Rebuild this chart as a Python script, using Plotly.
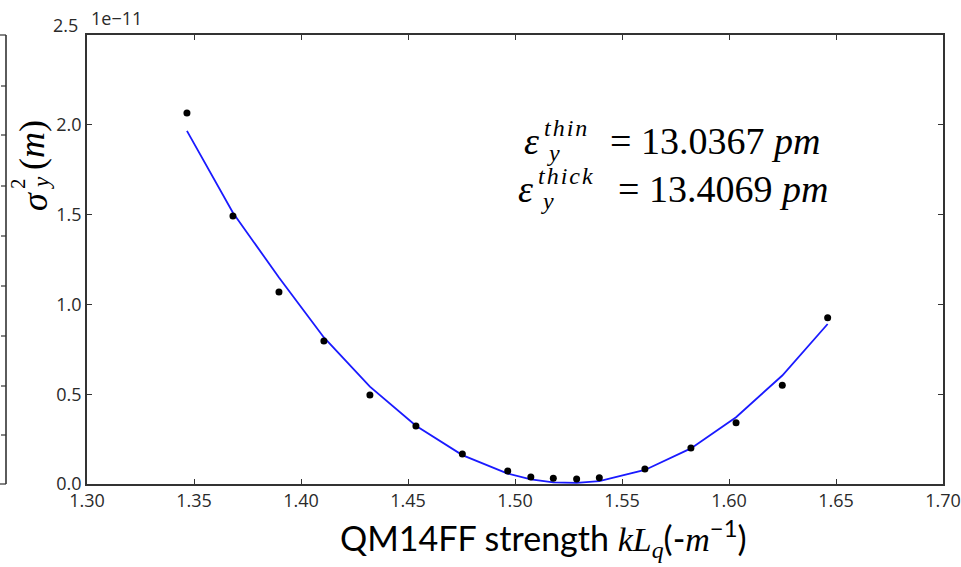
import plotly.graph_objects as go

# QM14FF quadrupole scan: vertical beam size squared vs. strength (units of 1e-11 m^2)
k_strength = [1.3467, 1.3682, 1.3897, 1.4107, 1.4322, 1.4537, 1.4754, 1.4966, 1.5074,
              1.5179, 1.5288, 1.5394, 1.5607, 1.5822, 1.6033, 1.6249, 1.6461]
sigma2_measured = [2.066, 1.492, 1.069, 0.796, 0.496, 0.323, 0.167, 0.072, 0.039,
                   0.032, 0.028, 0.035, 0.084, 0.200, 0.341, 0.550, 0.926]
sigma2_fit = [1.966, 1.510, 1.150, 0.816, 0.542, 0.324, 0.161, 0.058, 0.026,
              0.009, 0.006, 0.016, 0.078, 0.198, 0.372, 0.604, 0.891]

x_ticks = [1.30, 1.35, 1.40, 1.45, 1.50, 1.55, 1.60, 1.65, 1.70]
y_ticks = [0.0, 0.5, 1.0, 1.5, 2.0]
emit_thin = "13.0367"
emit_thick = "13.4069"

W, H = 961, 567
L, R, T, B = 87, 18, 35, 83
PW, PH = W - L - R, H - T - B


def px(x):
    return (x - L) / PW


def py(y):
    return (H - B - y) / PH


AX = "#333333"
TICK_FONT = dict(family="Open Sans", size=18, color="#2a2a2a")
SERIF = "Liberation Serif, DejaVu Serif, serif"
HS = "\u200a"  # hair space to open up the script-size labels

fig = go.Figure()
fig.add_trace(go.Scatter(x=k_strength, y=sigma2_fit, mode="lines",
                         line=dict(color="#1a1aff", width=1.8), showlegend=False))
fig.add_trace(go.Scatter(x=k_strength, y=sigma2_measured, mode="markers",
                         marker=dict(color="black", size=7), showlegend=False))

axis_common = dict(showline=True, linecolor=AX, linewidth=1.6, mirror="ticks",
                   ticks="inside", ticklen=5, tickwidth=1, tickcolor=AX,
                   showgrid=False, zeroline=False, tickfont=TICK_FONT,
                   automargin=False)
fig.update_xaxes(range=[1.30, 1.70], tickvals=x_ticks,
                 ticktext=[f"{v:.2f}" for v in x_ticks], **axis_common)
fig.update_yaxes(range=[0, 2.5], tickvals=y_ticks,
                 ticktext=[f"{v:.1f}" for v in y_ticks], **axis_common)

ann = []
# top tick label and exponent offset
ann.append(dict(x=px(80), y=py(25), text="2.5", xanchor="right", yanchor="middle",
                font=TICK_FONT))
ann.append(dict(x=px(89), y=py(18), text="1e\u221211", xanchor="left", yanchor="middle",
                font=TICK_FONT))

# y-axis label  σ_y^2(m), rotated
ann.append(dict(x=px(35), y=py(202), text="<i>σ</i>", textangle=-90,
                font=dict(family=SERIF, size=36, color="black")))
ann.append(dict(x=px(18), y=py(184), text="2", textangle=-90,
                font=dict(family=SERIF, size=21, color="black")))
ann.append(dict(x=px(41), y=py(183), text="<i>y</i>", textangle=-90,
                font=dict(family=SERIF, size=23, color="black")))
ann.append(dict(x=px(32), y=py(145), text="(<i>m</i>)", textangle=-90,
                font=dict(family=SERIF, size=36, color="black")))

# x-axis label
ann.append(dict(x=px(543), y=py(538),
                text=("QM14FF strength "
                      f"<span style='font-family:{SERIF}'><i>kL</i></span>"
                      f"<sub><span style='font-family:{SERIF}'><i>q</i></span></sub>"
                      f"(-<span style='font-family:{SERIF}'><i>m</i></span>"
                      "<sup>\u22121</sup>)"),
                font=dict(family="Lato", size=34, color="black")))

# emittance annotations: (baseline centre, script text, value, eps centre, value centre)
for (yc, sup, val, xe, xv) in [(141, "thin", emit_thin, 531, 715),
                               (189, "thick", emit_thick, 525, 723)]:
    ann.append(dict(x=px(xe), y=py(yc), text="<i>ε</i>", xanchor="center",
                    font=dict(family=SERIF, size=38, color="black")))
    ann.append(dict(x=px(xe + 11), y=py(yc - 13), text="<i>" + HS.join(sup) + "</i>",
                    xanchor="left", font=dict(family=SERIF, size=24, color="black")))
    ann.append(dict(x=px(xe + 14), y=py(yc + 12), text="<i>y</i>", xanchor="left",
                    font=dict(family=SERIF, size=24, color="black")))
    ann.append(dict(x=px(xv), y=py(yc), text=f"= {val} <i>pm</i>", xanchor="center",
                    font=dict(family=SERIF, size=38, color="black")))

for a in ann:
    a.setdefault("xref", "paper")
    a.setdefault("yref", "paper")
    a.setdefault("showarrow", False)
    a.setdefault("xanchor", "center")
    a.setdefault("yanchor", "middle")

# edge of the neighbouring panel on the left
shapes = [
    dict(type="line", x0=px(6), x1=px(6), y0=py(35), y1=py(484)),
    dict(type="line", x0=px(0), x1=px(6), y0=py(35), y1=py(35)),
    dict(type="line", x0=px(0), x1=px(6), y0=py(484), y1=py(484)),
]
for ty in [86, 135, 186, 236, 286, 336, 386, 435]:
    shapes.append(dict(type="line", x0=px(1), x1=px(6), y0=py(ty), y1=py(ty)))
for s in shapes:
    s.update(xref="paper", yref="paper",
             line=dict(color=AX, width=1.6 if s["x0"] == s["x1"] else 1.2))

fig.update_layout(width=W, height=H, margin=dict(l=L, r=R, t=T, b=B),
                  plot_bgcolor="white", paper_bgcolor="white",
                  annotations=ann, shapes=shapes)
fig.write_html("out.html")
